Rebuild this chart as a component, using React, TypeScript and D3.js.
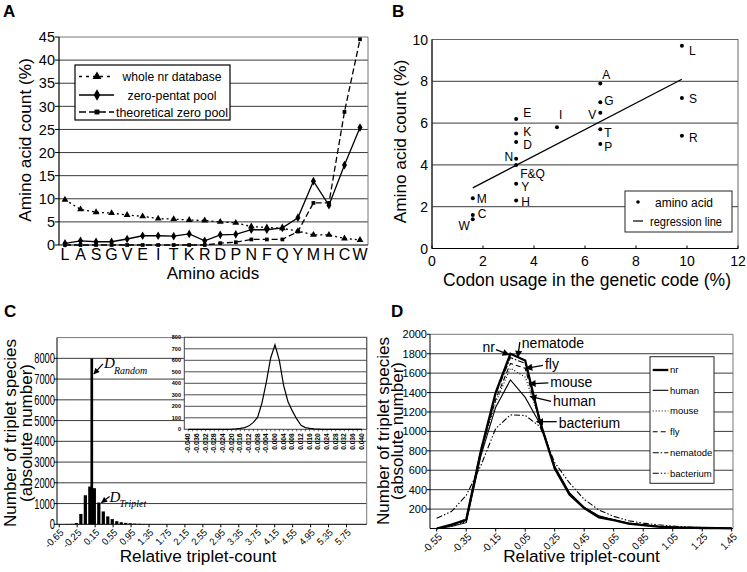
import React from 'react';
import * as d3 from 'd3';

const FONT = "'Liberation Sans', Arial, Helvetica, sans-serif";
const SERIF = "'Liberation Serif', 'Times New Roman', serif";

// ---------- Panel A ----------
const aminoAcids = ['L','A','S','G','V','E','I','T','K','R','D','P','N','F','Q','Y','M','H','C','W'];
const wholeNr = [9.8,7.7,7.1,6.9,6.5,6.2,5.7,5.6,5.4,5.3,5.0,4.8,4.0,3.8,3.6,3.0,2.2,2.2,1.4,1.1];
const zeroPentat = [0.35,0.9,0.7,0.7,1.3,2.0,2.0,1.9,2.4,0.9,2.2,2.3,3.3,3.3,3.7,5.9,13.8,8.6,17.3,25.4];
const theoreticalZero = [0,0,0,0,0,0,0,0,0,0,0.4,0.6,1.2,1.2,1.2,2.9,9.1,9.1,28.8,44.5];
const aYTicks = [0,5,10,15,20,25,30,35,40,45];
const aLegend = ['whole nr database','zero-pentat pool','theoretical zero pool'];

// ---------- Panel B ----------
const bNames = ['L','S','R','A','G','V','T','P','I','E','K','D','N','F&Q','Y','H','M','C','W'];
const bCodonUsage = [9.8,9.8,9.8,6.6,6.6,6.6,6.6,6.6,4.9,3.3,3.3,3.3,3.3,3.3,3.3,3.3,1.6,1.6,1.6];
const bAaCount = [9.7,7.2,5.4,7.9,7.0,6.5,5.7,5.0,5.8,6.2,5.5,5.1,4.3,4.0,3.1,2.3,2.4,1.6,1.4];
// label placement (pixel offsets from the dot; anchor)
const bLabelDx = [7,7,7,2,4,-4,4,4,2,7,7,7,-3,4,5,5,4,5,-3];
const bLabelDy = [5,1,2,-9,-2,2,3,3,-13,-6,-2,3,-2,9,3,1,0,-1,6];
const bLabelAnchor = ['start','start','start','start','start','end','start','start','start','start','start','start','end','start','start','start','start','start','end'];
const bRegX = [1.6, 9.8];
const bRegY = [2.9, 8.1];
const bXTicks = [0,2,4,6,8,10,12];
const bYTicks = [0,2,4,6,8,10];

// ---------- Panel C ----------
const cCategories = [-0.65,-0.55,-0.45,-0.35,-0.25,-0.15,-0.05,0.05,0.15,0.25,0.35,0.45,0.55,0.65,0.75,0.85,0.95,1.05,1.15,1.25,1.35,1.45,1.55,1.65,1.75,1.85,1.95,2.05,2.15,2.25,2.35,2.45,2.55,2.65,2.75,2.85,2.95,3.05,3.15,3.25,3.35,3.45,3.55,3.65,3.75,3.85,3.95,4.05,4.15,4.25,4.35,4.45,4.55,4.65,4.75,4.85,4.95,5.05,5.15,5.25,5.35,5.45,5.55,5.65,5.75,5.85,5.95,6.05,6.15];
const cTriplet = [0,5,15,20,60,500,1400,1820,1740,1050,620,380,250,150,100,70,50,35,25,18,12,9,6,4,3,2,2,1,1,0,0,0,0,0,0,0,0,0,0,0,0,0,0,0,0,0,0,0,0,0,0,0,0,0,0,0,0,0,0,0,0,0,0,0,0,0,0,0,0];
const cRandomCats = [0.05];
const cRandomVals = [8000];
const cXTickLabels = ['-0.65','-0.25','0.15','0.55','0.95','1.35','1.75','2.15','2.55','2.95','3.35','3.75','4.15','4.55','4.95','5.35','5.75'];
const cYTicks = [0,1000,2000,3000,4000,5000,6000,7000,8000];
// inset
const insetX = [-0.040,-0.038,-0.036,-0.034,-0.032,-0.030,-0.028,-0.026,-0.024,-0.022,-0.020,-0.018,-0.016,-0.014,-0.012,-0.010,-0.008,-0.006,-0.004,-0.002,0.000,0.002,0.004,0.006,0.008,0.010,0.012,0.014,0.016,0.018,0.020,0.022,0.024,0.026,0.028,0.030,0.032,0.034,0.036,0.038,0.040];
const insetY = [0,0,0,0,0,0,0,0,0,0,1,3,8,15,30,60,105,230,410,620,735,600,380,240,160,90,35,15,8,4,2,0,0,0,0,0,0,0,0,0,0];
const insetXTicks = ['-0.040','-0.036','-0.032','-0.028','-0.024','-0.020','-0.016','-0.012','-0.008','-0.004','0.000','0.004','0.008','0.012','0.016','0.020','0.024','0.028','0.032','0.036','0.040'];
const insetYTicks = [0,100,200,300,400,500,600,700,800];

// ---------- Panel D ----------
const dX = [-0.55,-0.45,-0.35,-0.25,-0.15,-0.05,0.05,0.15,0.25,0.35,0.45,0.55,0.65,0.75,0.85,0.95,1.05,1.15,1.25,1.35,1.45];
const dNr =        [0,40,90,800,1400,1800,1730,1100,620,350,210,115,85,50,35,20,12,8,5,3,2];
const dHuman =     [0,20,60,750,1250,1530,1350,1080,640,370,220,130,90,55,38,22,14,9,6,4,2];
const dMouse =     [0,25,70,780,1300,1650,1560,1120,620,360,215,125,88,54,37,21,13,8,5,3,2];
const dFly =       [0,30,80,800,1330,1700,1650,1100,610,355,212,122,86,52,36,20,12,8,5,3,2];
const dNematode =  [0,35,100,820,1380,1760,1700,1120,630,360,215,125,87,53,36,21,13,8,5,3,2];
const dBacterium = [105,175,340,650,1030,1170,1165,1050,680,470,300,190,125,80,55,38,25,16,10,6,3];
const dSeriesNames = ['nr','human','mouse','fly','nematode','bacterium'];
const dXTickLabels = ['-0.55','-0.35','-0.15','0.05','0.25','0.45','0.65','0.85','1.05','1.25','1.45'];
const dYTicks = [200,400,600,800,1000,1200,1400,1600,1800,2000];
// annotation targets in data space
const dAnnoNames = ['nr','nematode','fly','mouse','human','bacterium'];
const dAnnoX = [-0.06, 0.0, 0.055, 0.078, 0.083, 0.128];
const dAnnoY = [1790, 1765, 1650, 1490, 1360, 1100];

const GRID = '#3a3a3a';

function sym(type: d3.SymbolType, size: number) {
  return d3.symbol().type(type).size(size)() as string;
}

function PanelA() {
  const x = d3.scalePoint<string>().domain(aminoAcids).range([65, 360]);
  const y = d3.scaleLinear().domain([0, 45]).range([245, 37]);
  const L = 59, R = 368;
  const mk = (vals: number[]) =>
    d3.line<number>().x((_, i) => x(aminoAcids[i])!).y((d) => y(d))(vals) as string;
  const tri = sym(d3.symbolTriangle, 20);
  const dia = sym(d3.symbolDiamond, 22);
  const sq = sym(d3.symbolSquare, 14);
  const series = [
    { vals: wholeNr, dash: '2,3', m: tri },
    { vals: zeroPentat, dash: undefined, m: dia },
    { vals: theoreticalZero, dash: '6,3', m: sq },
  ];
  const legY = [76.5, 95, 112];
  const legW = [99, 89, 112];
  return (
    <g>
      <text x={3} y={17} fontSize={17} fontWeight="bold">A</text>
      {aYTicks.slice(1, -1).map((t) => (
        <line key={t} x1={L} x2={R} y1={y(t)} y2={y(t)} stroke={GRID} strokeWidth={1} />
      ))}
      <line x1={L} x2={R} y1={y(45)} y2={y(45)} stroke="#777" />
      <line x1={R} x2={R} y1={y(45)} y2={y(0)} stroke="#777" />
      <line x1={L} x2={L} y1={y(45)} y2={y(0)} stroke="#000" strokeWidth={1.2} />
      <line x1={L} x2={R} y1={y(0)} y2={y(0)} stroke="#000" strokeWidth={1.2} />
      {aYTicks.map((t) => (
        <g key={t}>
          <line x1={L - 4} x2={L} y1={y(t)} y2={y(t)} stroke="#000" />
          <text x={55} y={y(t)} dy="0.36em" textAnchor="end" fontSize={14.5}>{t}</text>
        </g>
      ))}
      {aminoAcids.map((a) => (
        <text key={a} x={x(a)} y={260} textAnchor="middle" fontSize={16}>{a}</text>
      ))}
      <text x={213} y={278.5} textAnchor="middle" fontSize={17}>Amino acids</text>
      <text transform={`translate(31,140) rotate(-90)`} textAnchor="middle" fontSize={17.2}>Amino acid count (%)</text>
      {series.map((s, k) => (
        <g key={k}>
          <path d={mk(s.vals)} fill="none" stroke="#000" strokeWidth={1.3} strokeDasharray={s.dash} />
          {s.vals.map((v, i) => (
            <path key={i} d={s.m} transform={`translate(${x(aminoAcids[i])},${y(v)})`} fill="#000" />
          ))}
        </g>
      ))}
      <rect x={75} y={65} width={155} height={55} fill="#fff" stroke="#000" strokeWidth={1.2} />
      {aLegend.map((name, k) => (
        <g key={name}>
          <line x1={79} x2={114} y1={legY[k]} y2={legY[k]} stroke="#000" strokeWidth={1.6}
            strokeDasharray={series[k].dash ? (k === 0 ? '3,4' : '7,3') : undefined} />
          <path d={series[k].m} transform={`translate(97,${legY[k]}) scale(1.3)`} fill="#000" />
          <text x={172} y={legY[k]} dy="0.36em" textAnchor="middle" fontSize={13.5}
            textLength={legW[k]} lengthAdjust="spacingAndGlyphs">{name}</text>
        </g>
      ))}
    </g>
  );
}

function PanelB() {
  const x = d3.scaleLinear().domain([0, 12]).range([432, 738]);
  const y = d3.scaleLinear().domain([0, 10]).range([248.5, 39.5]);
  const reg = d3.line<number>().x((d) => x(d)).y((_, i) => y(bRegY[i]))(bRegX) as string;
  return (
    <g>
      <text x={392} y={17} fontSize={17} fontWeight="bold">B</text>
      {bYTicks.slice(1, -1).map((t) => (
        <line key={t} x1={x(0)} x2={x(12)} y1={y(t)} y2={y(t)} stroke={GRID} />
      ))}
      <rect x={x(0)} y={y(10)} width={x(12) - x(0)} height={y(0) - y(10)} fill="none" stroke="#666" />
      <line x1={x(0)} x2={x(0)} y1={y(10)} y2={y(0)} stroke="#000" />
      <line x1={x(0)} x2={x(12)} y1={y(0)} y2={y(0)} stroke="#000" />
      {bYTicks.map((t) => (
        <text key={t} x={428} y={y(t)} dy="0.36em" textAnchor="end" fontSize={14}>{t}</text>
      ))}
      {bXTicks.map((t) => (
        <g key={t}>
          <line x1={x(t)} x2={x(t)} y1={y(0)} y2={y(0) - 3} stroke="#000" />
          <text x={x(t)} y={266} textAnchor="middle" fontSize={14}>{t}</text>
        </g>
      ))}
      <text x={587} y={285.5} textAnchor="middle" fontSize={17.5}>Codon usage in the genetic code (%)</text>
      <text transform={`translate(406,141.5) rotate(-90)`} textAnchor="middle" fontSize={17.2}>Amino acid count (%)</text>
      <path d={reg} stroke="#000" strokeWidth={1.3} fill="none" />
      {bNames.map((n, i) => (
        <g key={n}>
          <circle cx={x(bCodonUsage[i])} cy={y(bAaCount[i])} r={2} fill="#000" />
          <text x={x(bCodonUsage[i]) + bLabelDx[i]} y={y(bAaCount[i]) + bLabelDy[i]} dy="0.36em"
            textAnchor={bLabelAnchor[i]} fontSize={12}>{n}</text>
        </g>
      ))}
      <rect x={625} y={191} width={107} height={41} fill="#fff" stroke="#222" />
      <circle cx={638} cy={202} r={1.8} fill="#000" />
      <text x={655} y={202} dy="0.36em" fontSize={12.5} textLength={58} lengthAdjust="spacingAndGlyphs">amino acid</text>
      <line x1={633} x2={643} y1={221} y2={221} stroke="#000" strokeWidth={1.2} />
      <text x={650} y={221} dy="0.36em" fontSize={12.5} textLength={72} lengthAdjust="spacingAndGlyphs">regression line</text>
    </g>
  );
}

function PanelC() {
  const cats = cCategories.map((c) => c.toFixed(2));
  const x = d3.scaleBand<string>().domain(cats).range([57, 366.7]);
  const bw = x.bandwidth();
  const y = d3.scaleLinear().domain([0, 9000]).range([524.3, 337.6]);
  const L = 57, R = 366.7;
  // inset
  const ix = d3.scaleLinear().domain([-0.04, 0.04]).range([188.3, 361.7]);
  const iy = d3.scaleLinear().domain([0, 800]).range([429.3, 337.3]);
  const iLine = d3.line<number>().x((d) => ix(d)).y((_, i) => iy(insetY[i]))(insetX) as string;
  const fine = d3.range(-0.04, 0.0401, 0.002);
  const tripletBarX = (c: string) => x(c)! - 0.2;
  const randomBarX = (c: string) => x(c)! + bw * 0.45;
  const annoRandom = { tx: randomBarX('0.05') + bw * 0.55, ty: y(7250) };
  const annoTrip = { tx: tripletBarX('0.25') + bw * 0.75, ty: y(1050) };
  return (
    <g>
      <text x={4} y={317} fontSize={17} fontWeight="bold">C</text>
      {cYTicks.slice(1).map((t) => (
        <line key={t} x1={L} x2={R} y1={y(t)} y2={y(t)} stroke={GRID} />
      ))}
      <line x1={L} x2={R} y1={y(9000)} y2={y(9000)} stroke="#777" />
      <line x1={R} x2={R} y1={y(9000)} y2={y(0)} stroke="#777" />
      {cTriplet.map((v, i) => (
        <rect key={i} x={tripletBarX(cats[i])} y={y(v)} width={bw * 0.72} height={y(0) - y(v)} fill="#000" />
      ))}
      {cRandomCats.map((c, i) => (
        <rect key={c} x={randomBarX(c.toFixed(2))} y={y(cRandomVals[i])} width={bw * 0.6} height={y(0) - y(cRandomVals[i])} fill="#000" />
      ))}
      <line x1={L} x2={L} y1={y(9000)} y2={y(0)} stroke="#000" />
      <line x1={L} x2={R} y1={y(0)} y2={y(0)} stroke="#000" />
      {cYTicks.map((t) => (
        <g key={t}>
          <line x1={L - 3} x2={L} y1={y(t)} y2={y(t)} stroke="#000" />
          <text x={55} y={y(t)} dy="0.36em" textAnchor="end" fontSize={14}
            textLength={String(t).length * 5.2} lengthAdjust="spacingAndGlyphs">{t}</text>
        </g>
      ))}
      {cXTickLabels.map((t) => {
        const cx = x(t)! + bw / 2;
        return (
          <g key={t}>
            <line x1={cx} x2={cx} y1={y(0)} y2={y(0) + 3} stroke="#000" />
            <text transform={`translate(${cx + 5},${y(0) + 9}) rotate(-45)`} textAnchor="end" fontSize={10}
              textLength={t.length * 4.4} lengthAdjust="spacingAndGlyphs">{t}</text>
          </g>
        );
      })}
      <text x={198} y={562} textAnchor="middle" fontSize={17.2}>Relative triplet-count</text>
      <text transform={`translate(16,433) rotate(-90)`} textAnchor="middle" fontSize={17}>Number of triplet species</text>
      <text transform={`translate(31.5,433) rotate(-90)`} textAnchor="middle" fontSize={17}>(absolute number)</text>
      {/* annotations */}
      <line x1={annoRandom.tx + 10} x2={annoRandom.tx + 1} y1={annoRandom.ty - 10} y2={annoRandom.ty} stroke="#000" strokeWidth={1.2} markerEnd="url(#arrowC)" />
      <text x={annoRandom.tx + 11} y={annoRandom.ty - 6} fontFamily={SERIF} fontStyle="italic" fontSize={15}>D</text>
      <text x={annoRandom.tx + 21} y={annoRandom.ty} fontFamily={SERIF} fontStyle="italic" fontSize={10}>Random</text>
      <line x1={annoTrip.tx + 9} x2={annoTrip.tx + 1} y1={annoTrip.ty - 6} y2={annoTrip.ty} stroke="#000" strokeWidth={1.2} markerEnd="url(#arrowC)" />
      <text x={annoTrip.tx + 9} y={annoTrip.ty - 1} fontFamily={SERIF} fontStyle="italic" fontSize={15}>D</text>
      <text x={annoTrip.tx + 19} y={annoTrip.ty + 4} fontFamily={SERIF} fontStyle="italic" fontSize={10}>Triplet</text>
      {/* inset */}
      <rect x={184.3} y={337.3} width={182.4} height={92} fill="#fff" stroke="#444" />
      {insetYTicks.slice(1, -1).map((t) => (
        <line key={t} x1={184.3} x2={366.7} y1={iy(t)} y2={iy(t)} stroke={GRID} strokeWidth={0.9} />
      ))}
      {insetYTicks.map((t) => (
        <text key={t} x={181} y={iy(t)} dy="0.36em" textAnchor="end" fontSize={5.5} fontWeight="bold">{t}</text>
      ))}
      {fine.map((v, i) => (
        <line key={i} x1={ix(v)} x2={ix(v)} y1={iy(0)} y2={iy(0) + 2} stroke="#000" strokeWidth={0.6} />
      ))}
      {insetXTicks.map((t) => (
        <text key={t} transform={`translate(${ix(+t) + 2},${iy(0) + 4}) rotate(-90)`} textAnchor="end" fontSize={6.5}
          fontWeight="bold" textLength={t.length * 3.3} lengthAdjust="spacingAndGlyphs">{t}</text>
      ))}
      <path d={iLine} fill="none" stroke="#000" strokeWidth={1.2} />
    </g>
  );
}

function PanelD() {
  const x = d3.scaleLinear().domain([-0.55, 1.45]).range([436.7, 731.7]);
  const y = d3.scaleLinear().domain([0, 2000]).range([528.5, 334.3]);
  const L = 430, R = 733;
  const series = [
    { vals: dNr, dash: undefined, w: 2.3 },
    { vals: dHuman, dash: undefined, w: 1.1 },
    { vals: dMouse, dash: '1,2', w: 1.1 },
    { vals: dFly, dash: '5,3', w: 1.1 },
    { vals: dNematode, dash: '6,2,1.5,2', w: 1.1 },
    { vals: dBacterium, dash: '6,2,1.5,2,1.5,2', w: 1.1 },
  ];
  const mk = (vals: number[]) => d3.line<number>().x((d) => x(d)).y((_, i) => y(vals[i]))(dX) as string;
  const legY = [370, 390.3, 411, 431.7, 452.7, 473.3];
  // annotation label offsets (pixels)
  const tailDx = [-13, 2, 17, 19, 21, 20];
  const tailDy = [-5, -15, -3, -1, 5, 0];
  const textDx = [-14, 4, 19, 21, 23, 22];
  const textDy = [-3, -9.5, 1, 3, 10, 6];
  const textAnchor = ['end', 'start', 'start', 'start', 'start', 'start'];
  return (
    <g>
      <text x={391} y={317} fontSize={17} fontWeight="bold">D</text>
      {dYTicks.slice(0, -1).map((t) => (
        <line key={t} x1={L} x2={R} y1={y(t)} y2={y(t)} stroke={GRID} />
      ))}
      <line x1={L} x2={R} y1={y(2000)} y2={y(2000)} stroke="#777" />
      <line x1={R} x2={R} y1={y(2000)} y2={y(0)} stroke="#777" />
      {series.map((s, k) => (
        <path key={k} d={mk(s.vals)} fill="none" stroke="#000" strokeWidth={s.w} strokeDasharray={s.dash} />
      ))}
      <line x1={L} x2={L} y1={y(2000)} y2={y(0)} stroke="#000" />
      <line x1={L} x2={R} y1={y(0)} y2={y(0)} stroke="#000" />
      {dYTicks.map((t) => (
        <g key={t}>
          <line x1={L - 3} x2={L} y1={y(t)} y2={y(t)} stroke="#000" />
          <text x={427} y={y(t)} dy="0.36em" textAnchor="end" fontSize={11}>{t}</text>
        </g>
      ))}
      {dXTickLabels.map((t) => (
        <g key={t}>
          <line x1={x(+t)} x2={x(+t)} y1={y(0)} y2={y(0) + 3} stroke="#000" />
          <text transform={`translate(${x(+t) + 6},${y(0) + 9}) rotate(-45)`} textAnchor="end" fontSize={10.5}
            textLength={t.length * 4.6} lengthAdjust="spacingAndGlyphs">{t}</text>
        </g>
      ))}
      <text x={581.5} y={562} textAnchor="middle" fontSize={17.2}>Relative triplet-count</text>
      <text transform={`translate(388.5,431) rotate(-90)`} textAnchor="middle" fontSize={17}>Number of triplet species</text>
      <text transform={`translate(403,431) rotate(-90)`} textAnchor="middle" fontSize={17}>(absolute number)</text>
      {/* legend */}
      <rect x={650} y={356.7} width={64} height={126.6} fill="#fff" stroke="#222" />
      {dSeriesNames.map((n, k) => (
        <g key={n}>
          <line x1={652.7} x2={668.3} y1={legY[k]} y2={legY[k]} stroke="#000" strokeWidth={series[k].w}
            strokeDasharray={series[k].dash} />
          <text x={670} y={legY[k]} dy="0.36em" fontSize={9.5}>{n}</text>
        </g>
      ))}
      {/* annotations */}
      {dAnnoNames.map((n, k) => {
        const px = x(dAnnoX[k]);
        const py = y(dAnnoY[k]);
        return (
          <g key={n}>
            <line x1={px + tailDx[k]} y1={py + tailDy[k]} x2={px} y2={py} stroke="#000" strokeWidth={1.3} markerEnd="url(#arrowD)" />
            <text x={px + textDx[k]} y={py + textDy[k]} textAnchor={textAnchor[k]} fontSize={14}>{n}</text>
          </g>
        );
      })}
    </g>
  );
}

export default function App() {
  return (
    <svg width={747} height={572} style={{ position: 'absolute', left: 0, top: 0, display: 'block' }} fontFamily={FONT}>
      <defs>
        <marker id="arrowC" viewBox="0 0 10 10" refX="9" refY="5" markerWidth="7" markerHeight="6" orient="auto" markerUnits="userSpaceOnUse">
          <path d="M0,0 L10,5 L0,10 z" fill="#000" />
        </marker>
        <marker id="arrowD" viewBox="0 0 10 10" refX="9" refY="5" markerWidth="8" markerHeight="7" orient="auto" markerUnits="userSpaceOnUse">
          <path d="M0,0 L10,5 L0,10 z" fill="#000" />
        </marker>
      </defs>
      <rect width={747} height={572} fill="#fff" />
      <PanelA />
      <PanelB />
      <PanelC />
      <PanelD />
    </svg>
  );
}
